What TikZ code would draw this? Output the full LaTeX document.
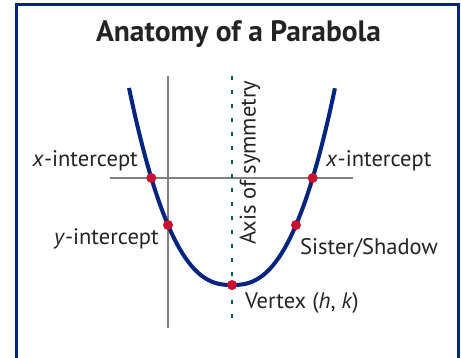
\documentclass[tikz,border=0pt]{standalone}
\usepackage{fontspec}
\setmainfont{PT Sans}
\usepackage{xcolor}
\usepackage{tikz}
\usetikzlibrary{positioning}

\definecolor{navy}{RGB}{0,36,128}
\definecolor{dotred}{RGB}{200,18,48}
\definecolor{axisgray}{RGB}{128,128,128}
\definecolor{symgreen}{RGB}{0,100,60}
\definecolor{inkgray}{RGB}{35,35,35}

\begin{document}
\begin{tikzpicture}[
  x=1pt, y=1pt,
  frame/.style={draw=navy, line width=3pt},
  axis/.style={draw=axisgray, line width=2.4pt},
  symline/.style={draw=symgreen, line width=1.3pt, dash pattern=on 4.5pt off 9.5pt},
  curve/.style={draw=navy, line width=4pt},
  dot/.style={circle, fill=dotred, inner sep=0pt, minimum size=10pt},
  lbl/.style={inner sep=0pt, text=inkgray, font=\fontsize{22.5}{27}\selectfont},
  title/.style={inner sep=0pt, text=inkgray, font=\fontsize{29.5}{35}\selectfont\bfseries},
]
\useasboundingbox (0,0) rectangle (461,358);

% Frame
\draw[frame] (16.5,-10) |- (458.5,353.5) -- (458.5,-10);

% Title
\node[title, anchor=base] (head) at (238.5,316) {Anatomy of a Parabola};

% Axes
\draw[axis] (110,180) -- (353,180);
\draw[axis] (168,282) -- (168,30);

% Axis of symmetry
\draw[symline] (232,282) -- (232,30);
\node[lbl, rotate=90, anchor=base west] (sym) at (255.5,113) {Axis of symmetry};

% Parabola
\draw[curve] plot[domain=-1.03:1.03, samples=81, smooth]
  ({232+100*\x},{73+183*\x*\x*sqrt(abs(\x))});

% Points
\node[dot] (xl) at (151.3,180) {};
\node[dot] (xr) at (312.7,180) {};
\node[dot] (yi) at (168,133) {};
\node[dot] (sis) at (296,133) {};
\node[dot] (vtx) at (232,73) {};

% Labels
\node[lbl, anchor=base east] (xl_lbl) at (138,191) {\textit{x}-intercept};
\node[lbl, anchor=base west] (xr_lbl) at (326,191) {\textit{x}-intercept};
\node[lbl, anchor=base east] (yi_lbl) at (159,113) {\textit{y}-intercept};
\node[lbl, anchor=base west] (sis_lbl) at (300,103) {Sister/Shadow};
\node[lbl, anchor=base west] (vtx_lbl) at (245,49) {Vertex (\textit{h}, \textit{k})};

\end{tikzpicture}
\end{document}
